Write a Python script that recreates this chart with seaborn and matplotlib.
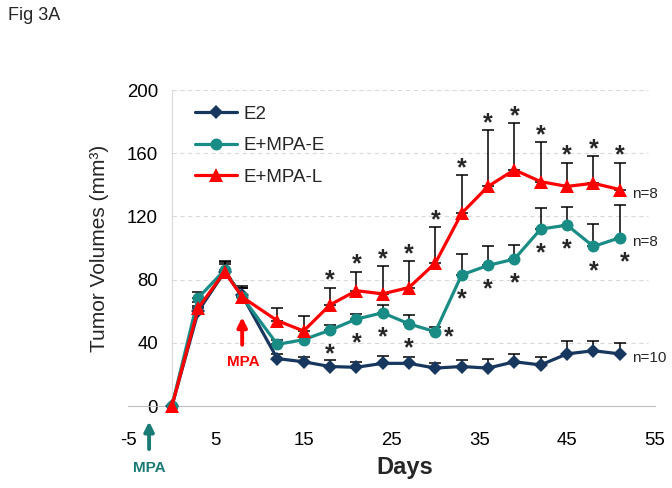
import numpy as np
import pandas as pd
import matplotlib
matplotlib.use("Agg")
import matplotlib.pyplot as plt
import seaborn as sns

days = [0, 3, 6, 8, 12, 15, 18, 21, 24, 27, 30, 33, 36, 39, 42, 45, 48, 51]

e2_mean = [0, 60, 85, 70, 30, 28, 25, 24.5, 27, 27, 24, 25, 24, 28, 26, 33, 35, 33]
e2_err = [0, 3, 6, 5, 3, 3, 4, 3.5, 4.5, 4, 3, 4, 5.5, 5, 5, 8, 6, 7]

mpa_e_mean = [0, 68.5, 86, 69, 39, 42, 48, 55, 59, 52, 47, 83, 89, 93, 112, 114.5, 101, 106.5]
mpa_e_err = [0, 3.5, 6, 6, 3, 2, 3.5, 3.5, 5, 5.5, 3, 13.5, 12.5, 9, 13.5, 11.5, 14, 21]

mpa_l_mean = [0, 62, 85, 69, 54, 47.5, 64, 73, 71, 75, 90.5, 122, 139, 149.5, 142, 139, 141, 137]
mpa_l_err = [0, 4, 5, 7, 8, 9.5, 11, 12, 17.5, 16.5, 22.5, 24, 35.5, 29.5, 25, 15, 17, 17]

groups = ["E2", "E+MPA-E", "E+MPA-L"]
n_labels = ["n=10", "n=8", "n=8"]
star_days = [18, 21, 24, 27, 30, 33, 36, 39, 42, 45, 48, 51]

colors = {"E2": "#17375E", "E+MPA-E": "#1A8C86", "E+MPA-L": "#FF0000"}
markers = {"E2": "D", "E+MPA-E": "o", "E+MPA-L": "^"}
msizes = {"E2": 6.8, "E+MPA-E": 8.6, "E+MPA-L": 9.5}

means = {"E2": e2_mean, "E+MPA-E": mpa_e_mean, "E+MPA-L": mpa_l_mean}
errs = {"E2": e2_err, "E+MPA-E": mpa_e_err, "E+MPA-L": mpa_l_err}

df = pd.concat([pd.DataFrame({"Days": days, "Volume": means[g], "group": g}) for g in groups],
               ignore_index=True)

sns.set_style("white")
plt.rcParams["font.family"] = ["Liberation Sans", "DejaVu Sans"]
plt.rcParams["axes.unicode_minus"] = False

fig = plt.figure(figsize=(6.72, 4.88), dpi=100)
ax = fig.add_axes([0.1905, 0.168, 0.784, 0.6475])

# dashed gridlines
for yv in [40, 80, 120, 160, 200]:
    ax.plot([0, 54.2], [yv, yv], color="#D9D9D9", lw=0.8, ls=(0, (4, 3)), zorder=0)

# upper error bars only
for g in groups:
    e = np.array(errs[g])
    ax.errorbar(days, means[g], yerr=[np.zeros_like(e), e], fmt="none", ecolor="black",
                elinewidth=1.1, capsize=4.5, capthick=1.1, zorder=2, clip_on=False)

sns.lineplot(data=df, x="Days", y="Volume", hue="group", style="group", palette=colors,
             markers=markers, dashes=False, lw=2.3, markersize=9, markeredgewidth=0,
             ax=ax, zorder=3, clip_on=False)

for line, g in zip([l for l in ax.get_lines() if l.get_marker() in ("D", "o", "^")], groups):
    line.set_markersize(msizes[g])

# significance stars
for i, d in enumerate(days):
    if d not in star_days:
        continue
    yr = mpa_l_mean[i] + mpa_l_err[i] + 9
    ax.annotate("*", (d, yr), xytext=(0, -14), textcoords="offset pixels",
                ha="center", va="baseline", fontsize=18, fontweight="bold", annotation_clip=False)
    dx, yt = 0, mpa_e_mean[i] - 11
    if d == 30:
        dx, yt = 1.5, mpa_e_mean[i] + 1
    elif d == 51:
        dx = 0.6
    ax.annotate("*", (d + dx, yt), xytext=(0, -14), textcoords="offset pixels",
                ha="center", va="baseline", fontsize=18, fontweight="bold", annotation_clip=False)

# n labels
for g, lab in zip(groups, n_labels):
    ax.text(52.4, means[g][-1] - 2.5, lab, ha="left", va="center", fontsize=11)

# MPA arrows
ax.annotate("", xy=(8, 58), xytext=(8, 37),
            arrowprops=dict(arrowstyle="-|>", color="#FF0000", lw=2.8, mutation_scale=14))
ax.text(8.1, 28, "MPA", color="#FF0000", fontsize=11, fontweight="bold", ha="center", va="center")
ax.annotate("", xy=(-2.6, -8), xytext=(-2.6, -29), annotation_clip=False,
            arrowprops=dict(arrowstyle="-|>", color="#1A7A74", lw=2.8, mutation_scale=14))
ax.text(-2.6, -39.5, "MPA", color="#1A7A74", fontsize=11, fontweight="bold", ha="center", va="center")

ax.set_xlim(-5, 55)
ax.set_ylim(0, 200)
ax.set_xticks(np.arange(-5, 56, 10))
ax.set_yticks(np.arange(0, 201, 40))
ax.tick_params(axis="both", labelsize=13.4, colors="black")
ax.tick_params(axis="x", direction="out", length=4.5, width=0.8, color="#BFBFBF", pad=14.5)
ax.tick_params(axis="y", direction="out", length=6, width=0.8, color="#D9D9D9", pad=4)

for s in ["top", "right"]:
    ax.spines[s].set_visible(False)
ax.spines["left"].set_position(("data", 0))
ax.spines["left"].set_color("#D9D9D9")
ax.spines["bottom"].set_color("#BFBFBF")
ax.spines["left"].set_linewidth(0.8)
ax.spines["bottom"].set_linewidth(0.8)

ax.set_xlabel("Days", fontsize=17, fontweight="bold")
ax.xaxis.set_label_coords(0.526, -0.158)
ax.xaxis.label.set_va("top")
ax.set_ylabel("Tumor Volumes (mm³)", fontsize=15)
ax.yaxis.set_label_coords(-0.036, 0.5)

handles, labels = ax.get_legend_handles_labels()
for h, g in zip(handles, groups):
    h.set_markersize(msizes[g])
ax.legend(handles, labels, loc="upper left", bbox_to_anchor=(0.112, 0.975), frameon=False,
          fontsize=13.5, handlelength=2.25, handletextpad=0.35, labelspacing=0.78,
          borderaxespad=0)

fig.text(0.012, 0.985, "Fig 3A", fontsize=13, ha="left", va="top")

fig.savefig("out.png", dpi=100)
